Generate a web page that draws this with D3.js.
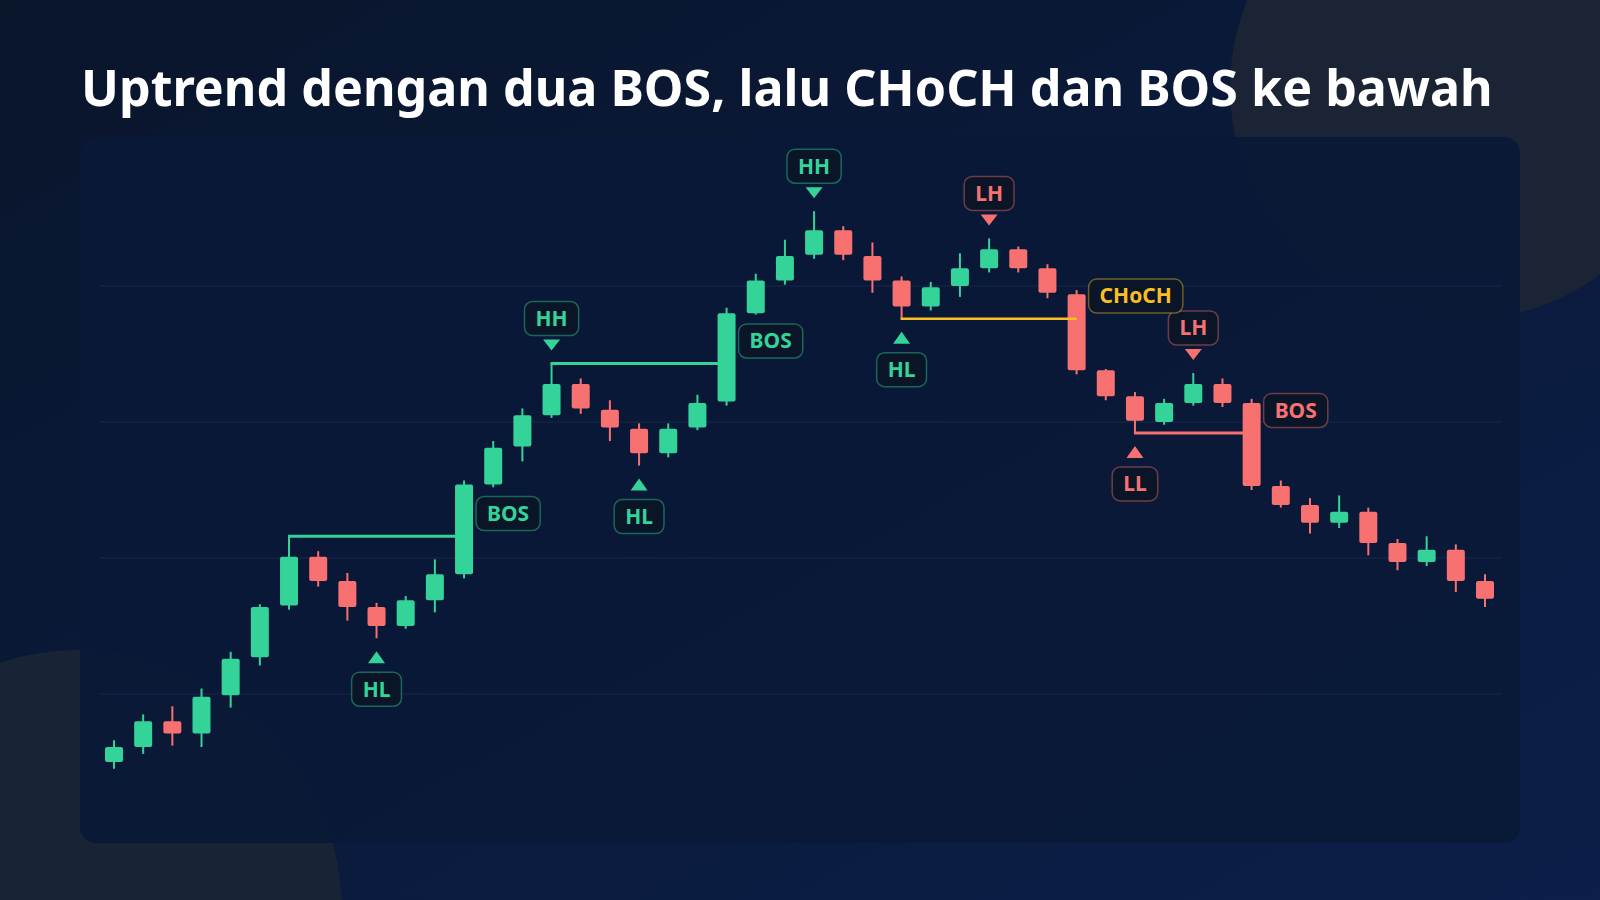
<!DOCTYPE html>
<html><head><meta charset="utf-8">
<script src="https://cdn.jsdelivr.net/npm/d3@7"></script>
<style>html,body{margin:0;padding:0;background:#0a162c;overflow:hidden}</style>
</head><body>
<svg id="c" width="1600" height="900"></svg>
<script>
const title = "Uptrend dengan dua BOS, lalu CHoCH dan BOS ke bawah";
const opens  = [50,61,80,71,99,127,165,201,183,164,150,169,188,254,282,305,328,309,295,277,296,315,380,404,423,441,422,404,385,400,413,427,413,394,338,319,300,314,328,314,253,239,226,234,211,197,206,183];
const closes = [61,80,71,98,126,164,201,183,164,150,169,188,254,281,305,328,310,296,277,295,314,380,404,422,441,423,404,385,399,413,427,413,395,338,319,301,314,328,314,253,239,226,234,211,197,206,183,170];
const highs  = [66,85,91,104,131,166,216,205,189,167,172,199,257,286,310,343,332,316,299,299,320,384,409,434,455,444,432,407,403,424,435,429,416,397,339,322,317,336,332,317,257,244,246,237,214,216,210,188];
const lows   = [45,56,62,61,90,121,162,179,154,141,148,160,185,252,271,303,306,286,268,274,294,312,379,401,420,419,395,376,382,392,410,410,391,335,316,292,298,312,311,250,237,218,222,202,191,194,175,164];
const gridValues = [100,200,300,400];

// swing labels
const swingIndex = [9,15,18,24,27,30,35,37];
const swingText  = ["HL","HH","HL","HH","HL","LH","LL","LH"];
const swingSide  = ["below","above","below","above","below","above","below","above"];
const swingKind  = ["up","up","up","up","up","down","down","down"];

// structure breaks
const breakFrom  = [6,15,27,35];
const breakTo    = [12,21,33,39];
const breakLevel = [216,343,376,292];
const breakText  = ["BOS","BOS","CHoCH","BOS"];
const breakLabelPrice = [232.7,359.6,392.6,308.5];
const breakKind  = ["up","up","choch","down"];

const COLORS = {up:"#34d399", down:"#f87171", choch:"#fbbf24"};
const BORDER = {up:"rgba(52,211,153,0.42)", down:"rgba(248,113,113,0.42)", choch:"rgba(251,191,36,0.42)"};

const svg = d3.select("#c");
const defs = svg.append("defs");
const bg = defs.append("linearGradient").attr("id","bg").attr("x1","0").attr("y1","0").attr("x2","1").attr("y2","1");
bg.append("stop").attr("offset","0").attr("stop-color","#09152b");
bg.append("stop").attr("offset","1").attr("stop-color","#0c1f4a");
svg.append("rect").attr("width",1600).attr("height",900).attr("fill","url(#bg)");
svg.append("circle").attr("cx",1462).attr("cy",88).attr("r",232).attr("fill","#1a2434");
svg.append("circle").attr("cx",80).attr("cy",912).attr("r",262).attr("fill","#182335");

// title
svg.append("text").attr("x",81).attr("y",106)
  .attr("font-family","'Noto Sans','Open Sans',sans-serif").attr("font-weight",700)
  .attr("font-size",50.2).attr("fill","#ffffff").text(title);

// panel
svg.append("rect").attr("x",80).attr("y",137).attr("width",1440).attr("height",706)
  .attr("rx",16).attr("fill","#0a1937").attr("fill-opacity",0.93);

const x = d3.scalePoint().domain(d3.range(opens.length)).range([114,1485]);
const y = d3.scaleLinear().domain([0,500]).range([830,150]);

// grid
svg.append("g").selectAll("line").data(gridValues).join("line")
  .attr("x1",100).attr("x2",1502).attr("y1",d=>y(d)).attr("y2",d=>y(d))
  .attr("stroke","#18284a").attr("stroke-width",1.2);

const candles = opens.map((o,i)=>({i,o,c:closes[i],h:highs[i],l:lows[i]}));
const cg = svg.append("g");
const bw = 18;
cg.selectAll("line").data(candles).join("line")
  .attr("x1",d=>x(d.i)).attr("x2",d=>x(d.i)).attr("y1",d=>y(d.h)).attr("y2",d=>y(d.l))
  .attr("stroke",d=>d.c>=d.o?COLORS.up:COLORS.down).attr("stroke-width",2);
cg.selectAll("rect").data(candles).join("rect")
  .attr("x",d=>x(d.i)-bw/2).attr("width",bw)
  .attr("y",d=>y(Math.max(d.o,d.c))).attr("height",d=>Math.max(2,Math.abs(y(d.o)-y(d.c))))
  .attr("rx",2).attr("fill",d=>d.c>=d.o?COLORS.up:COLORS.down);

// structure lines
const breaks = breakFrom.map((f,k)=>({f,t:breakTo[k],lv:breakLevel[k],txt:breakText[k],lp:breakLabelPrice[k],kind:breakKind[k]}));
svg.append("g").selectAll("line").data(breaks).join("line")
  .attr("x1",d=>x(d.f)-1).attr("x2",d=>x(d.t)).attr("y1",d=>y(d.lv)).attr("y2",d=>y(d.lv))
  .attr("stroke",d=>COLORS[d.kind]).attr("stroke-width",d=>d.kind==="choch"?2.5:3);

function label(g, cx, cy, txt, kind, leftAnchored){
  const t = g.append("text").attr("font-family","'Noto Sans','Open Sans',sans-serif")
    .attr("font-weight",700).attr("font-size",21).attr("fill",COLORS[kind]).text(txt);
  const w = t.node().getComputedTextLength() + 22;
  const h = 34;
  const left = leftAnchored ? cx : cx - w/2;
  g.insert("rect","text").attr("x",left).attr("y",cy-h/2).attr("width",w).attr("height",h)
    .attr("rx",8).attr("fill","#0a1628").attr("stroke",BORDER[kind]).attr("stroke-width",1.5);
  t.attr("x",left+w/2).attr("y",cy+7.3).attr("text-anchor","middle");
}

const lg = svg.append("g");
swingIndex.forEach((i,k)=>{
  const g = lg.append("g");
  const cx = x(i), kind = swingKind[k];
  if(swingSide[k]==="above"){
    const yh = y(highs[i]);
    g.append("path").attr("d",`M${cx-8.5},${yh-24}L${cx+8.5},${yh-24}L${cx},${yh-13}Z`).attr("fill",COLORS[kind]);
    label(g,cx,yh-45,swingText[k],kind,false);
  } else {
    const yl = y(lows[i]);
    g.append("path").attr("d",`M${cx-8.5},${yl+25}L${cx+8.5},${yl+25}L${cx},${yl+13}Z`).attr("fill",COLORS[kind]);
    label(g,cx,yl+51,swingText[k],kind,false);
  }
});
breaks.forEach(d=>{
  const g = lg.append("g");
  label(g, x(d.t)+12, y(d.lp), d.txt, d.kind, true);
});
</script>
</body></html>
